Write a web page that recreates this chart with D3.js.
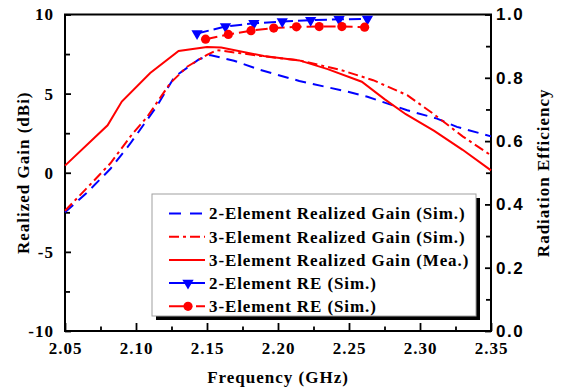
<!DOCTYPE html>
<html>
<head>
<meta charset="utf-8">
<script src="https://cdn.jsdelivr.net/npm/d3@7/dist/d3.min.js"></script>
<style>
  body { margin: 0; background: #fff; }
  text { font-family: "Liberation Serif", "Times New Roman", serif; font-weight: bold; }
  .sans text { font-family: "Liberation Sans", Arial, sans-serif; }
</style>
</head>
<body>
<svg id="chart" width="564" height="388"></svg>
<script>
// gain curves (dBi)
const freq2Sim = [2.050, 2.065, 2.082, 2.096, 2.115, 2.127, 2.144, 2.152, 2.169, 2.1875, 2.215, 2.250, 2.263, 2.291, 2.312, 2.326, 2.350];
const gain2Sim = [-2.5, -1.3, 0.25, 1.85, 4.25, 6.05, 7.15, 7.44, 7.08, 6.5, 5.8, 5.1, 4.8, 3.95, 3.42, 2.9, 2.3];

const freq3Sim = [2.050, 2.064, 2.082, 2.097, 2.108, 2.124, 2.136, 2.150, 2.157, 2.188, 2.215, 2.244, 2.267, 2.291, 2.309, 2.330, 2.350];
const gain3Sim = [-2.4, -1.1, 0.6, 2.4, 3.55, 5.65, 6.7, 7.45, 7.75, 7.38, 7.1, 6.5, 5.85, 4.9, 3.75, 2.3, 1.1];

const freq3Mea = [2.050, 2.080, 2.090, 2.110, 2.130, 2.150, 2.160, 2.190, 2.215, 2.235, 2.259, 2.275, 2.290, 2.310, 2.330, 2.350];
const gain3Mea = [0.45, 3.0, 4.5, 6.3, 7.7, 7.95, 7.92, 7.38, 7.1, 6.55, 5.75, 4.65, 3.7, 2.65, 1.45, 0.15];

// radiation efficiency
const freq2RE = [2.143, 2.163, 2.183, 2.203, 2.223, 2.243, 2.263];
const re2 = [0.94, 0.962, 0.972, 0.978, 0.982, 0.985, 0.986];
const freq3RE = [2.149, 2.165, 2.181, 2.197, 2.213, 2.229, 2.245, 2.261];
const re3 = [0.922, 0.937, 0.949, 0.957, 0.961, 0.962, 0.962, 0.96];

const xTicks = [2.05, 2.10, 2.15, 2.20, 2.25, 2.30, 2.35];
const yLeftTicks = [-10, -5, 0, 5, 10];
const yRightTicks = [0, 0.2, 0.4, 0.6, 0.8, 1.0];

const legendLabels = [
    '2-Element Realized Gain (Sim.)',
    '3-Element Realized Gain (Sim.)',
    '3-Element Realized Gain (Mea.)',
    '2-Element RE (Sim.)',
    '3-Element RE (Sim.)'
];

const blue = '#0000ff';
const red = '#ff0000';

const svg = d3.select('#chart');
const plotLeft = 65, plotRight = 491, plotTop = 14.5, plotBottom = 331;

const x = d3.scaleLinear().domain([2.05, 2.35]).range([plotLeft, plotRight]);
const yL = d3.scaleLinear().domain([-10, 10]).range([plotBottom, plotTop]);
const yR = d3.scaleLinear().domain([0, 1]).range([plotBottom, plotTop]);

const zip = (xs, ys) => xs.map((v, i) => [v, ys[i]]);

// minor ticks
svg.append('g')
    .attr('transform', `translate(0,${plotBottom})`)
    .call(d3.axisBottom(x).tickValues(d3.range(2.075, 2.35, 0.05)).tickSize(-4.5).tickSizeOuter(0).tickFormat(''));
svg.append('g')
    .attr('transform', `translate(${plotLeft},0)`)
    .call(d3.axisLeft(yL).tickValues([-7.5, -2.5, 2.5, 7.5]).tickSize(-5).tickSizeOuter(0).tickFormat(''));
svg.append('g')
    .attr('transform', `translate(${plotRight},0)`)
    .call(d3.axisRight(yR).tickValues([0.1, 0.3, 0.5, 0.7, 0.9]).tickSize(-5).tickSizeOuter(0).tickFormat(''));

// major ticks
svg.append('g')
    .attr('transform', `translate(0,${plotBottom})`)
    .call(d3.axisBottom(x).tickValues(xTicks).tickSize(-8).tickSizeOuter(0).tickPadding(11).tickFormat(d3.format('.2f')));
svg.append('g')
    .attr('transform', `translate(${plotLeft},0)`)
    .call(d3.axisLeft(yL).tickValues(yLeftTicks).tickSize(-6).tickSizeOuter(0).tickPadding(11).tickFormat(d => String(d)));
const yAxisR = svg.append('g')
    .attr('class', 'sans')
    .attr('transform', `translate(${plotRight},0)`)
    .call(d3.axisRight(yR).tickValues(yRightTicks).tickSize(-6).tickSizeOuter(0).tickPadding(5).tickFormat(d3.format('.1f')));

svg.selectAll('.tick line').attr('stroke', '#000').attr('stroke-width', 1.8);
svg.selectAll('.domain').remove();
svg.selectAll('.tick text')
    .attr('fill', '#000')
    .style('font-size', '17px')
    .style('letter-spacing', '1px');
yAxisR.selectAll('.tick text').style('letter-spacing', '1.5px');

// frame
svg.append('rect')
    .attr('x', plotLeft).attr('y', plotTop)
    .attr('width', plotRight - plotLeft).attr('height', plotBottom - plotTop)
    .attr('fill', 'none').attr('stroke', '#000').attr('stroke-width', 2);

// curves
const line = (yScale) => d3.line().x(d => x(d[0])).y(d => yScale(d[1]));
const curves = svg.append('g').attr('fill', 'none').attr('stroke-width', 2);

curves.append('path').datum(zip(freq2Sim, gain2Sim))
    .attr('d', line(yL)).attr('stroke', blue).attr('stroke-dasharray', '11,7');
curves.append('path').datum(zip(freq3Sim, gain3Sim))
    .attr('d', line(yL)).attr('stroke', red).attr('stroke-dasharray', '10,4,3,4');
curves.append('path').datum(zip(freq3Mea, gain3Mea))
    .attr('d', line(yL)).attr('stroke', red);
curves.append('path').datum(zip(freq2RE, re2))
    .attr('d', line(yR)).attr('stroke', blue).attr('stroke-dasharray', '12,5');
curves.append('path').datum(zip(freq3RE, re3))
    .attr('d', line(yR)).attr('stroke', red).attr('stroke-dasharray', '12,5');

const tri = d3.symbol().type(d3.symbolTriangle).size(55);
svg.append('g').selectAll('path')
    .data(zip(freq2RE, re2))
    .join('path')
    .attr('d', tri)
    .attr('transform', d => `translate(${x(d[0])},${yR(d[1])}) rotate(180)`)
    .attr('fill', blue);

svg.append('g').selectAll('circle')
    .data(zip(freq3RE, re3))
    .join('circle')
    .attr('cx', d => x(d[0])).attr('cy', d => yR(d[1]))
    .attr('r', 4.6)
    .attr('fill', red);

// legend
const lg = svg.append('g');
const lgX = 152, lgY = 194, lgW = 324, lgH = 122;
lg.append('rect').attr('x', lgX + 4).attr('y', lgY + 4).attr('width', lgW).attr('height', lgH).attr('fill', '#000');
lg.append('rect').attr('x', lgX).attr('y', lgY).attr('width', lgW).attr('height', lgH)
    .attr('fill', '#fff').attr('stroke', '#a0a0a0').attr('stroke-width', 1);

const rowY = i => 213.5 + i * 23.2;
const sampleStyles = [
    {color: blue, dash: '12,9'},
    {color: red, dash: '10,4,3,4'},
    {color: red, dash: null},
    {color: blue, dash: null, marker: 'tri'},
    {color: red, dash: '20,7', marker: 'dot'}
];
sampleStyles.forEach((s, i) => {
    const yy = rowY(i);
    lg.append('line')
        .attr('x1', 169).attr('x2', 205).attr('y1', yy).attr('y2', yy)
        .attr('stroke', s.color).attr('stroke-width', 2)
        .attr('stroke-dasharray', s.dash);
    if (s.marker === 'tri') {
        lg.append('path').attr('d', tri)
            .attr('transform', `translate(188,${yy}) rotate(180)`).attr('fill', s.color);
    } else if (s.marker === 'dot') {
        lg.append('circle').attr('cx', 188).attr('cy', yy).attr('r', 4.6).attr('fill', s.color);
    }
    lg.append('text')
        .attr('x', 209).attr('y', yy).attr('dy', '0.35em')
        .style('font-size', '17px').style('letter-spacing', '0.9px')
        .text(legendLabels[i]);
});

// axis titles
svg.append('text')
    .attr('x', (plotLeft + plotRight) / 2).attr('y', 377).attr('dy', '0.35em')
    .attr('text-anchor', 'middle')
    .style('font-size', '17px').style('letter-spacing', '1px')
    .text('Frequency (GHz)');
svg.append('text')
    .attr('transform', `translate(23,${(plotTop + plotBottom) / 2}) rotate(-90)`)
    .attr('text-anchor', 'middle').attr('dy', '0.35em')
    .style('font-size', '17px').style('letter-spacing', '1px')
    .text('Realized Gain (dBi)');
svg.append('text')
    .attr('transform', `translate(543,${(plotTop + plotBottom) / 2}) rotate(-90)`)
    .attr('text-anchor', 'middle').attr('dy', '0.35em')
    .style('font-size', '17px').style('letter-spacing', '1px')
    .text('Radiation Efficiency');
</script>
</body>
</html>
